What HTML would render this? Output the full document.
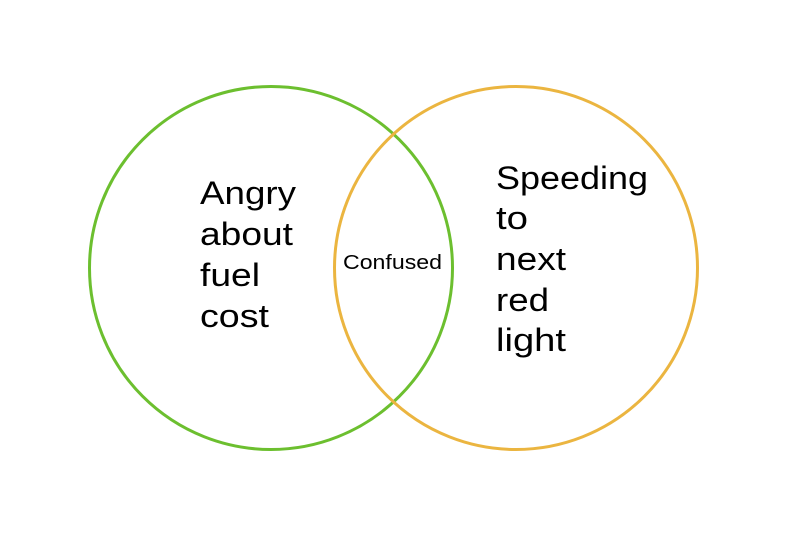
<!DOCTYPE html>
<html><head><meta charset="utf-8"><style>
html,body{margin:0;padding:0;background:#fff;width:788px;height:545px;overflow:hidden}
svg{display:block}
text{font-family:"Liberation Sans",sans-serif;fill:#000}
</style></head><body>
<svg width="788" height="545" viewBox="0 0 788 545">
<circle cx="271" cy="268" r="181.5" fill="none" stroke="#6cbf2f" stroke-width="3"/>
<circle cx="516" cy="268" r="181.5" fill="none" stroke="#ebb540" stroke-width="3"/>
<g font-size="32">
<text x="200" y="204" textLength="96" lengthAdjust="spacingAndGlyphs">Angry</text>
<text x="200" y="245" textLength="93" lengthAdjust="spacingAndGlyphs">about</text>
<text x="200" y="286" textLength="60" lengthAdjust="spacingAndGlyphs">fuel</text>
<text x="200" y="327" textLength="69" lengthAdjust="spacingAndGlyphs">cost</text>
<text x="496" y="189" textLength="152" lengthAdjust="spacingAndGlyphs">Speeding</text>
<text x="496" y="229" textLength="32" lengthAdjust="spacingAndGlyphs">to</text>
<text x="496" y="270" textLength="70" lengthAdjust="spacingAndGlyphs">next</text>
<text x="496" y="311" textLength="53" lengthAdjust="spacingAndGlyphs">red</text>
<text x="496" y="351" textLength="70" lengthAdjust="spacingAndGlyphs">light</text>
</g>
<text x="343" y="269" font-size="20" textLength="99" lengthAdjust="spacingAndGlyphs">Confused</text>
</svg>
</body></html>
